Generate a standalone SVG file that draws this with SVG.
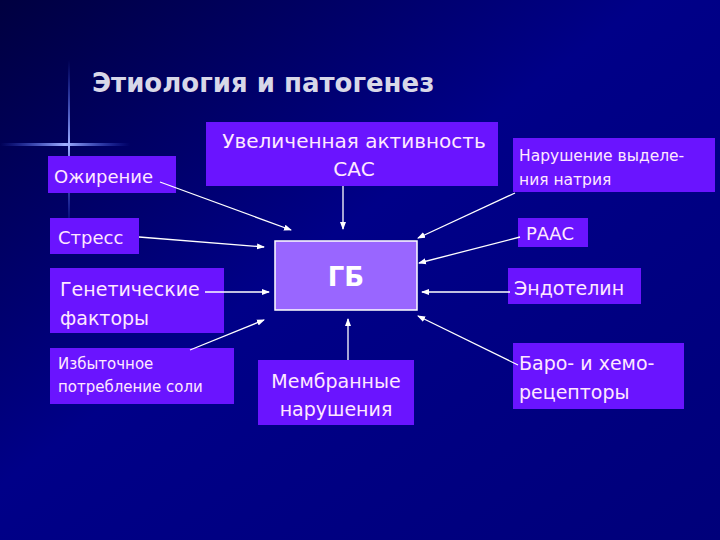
<svg xmlns="http://www.w3.org/2000/svg" width="720" height="540" viewBox="0 0 720 540">
<defs>
<linearGradient id="bg" x1="0" y1="0" x2="1" y2="1"><stop offset="0" stop-color="#000040"/><stop offset="0.45" stop-color="#000088"/><stop offset="1" stop-color="#00007a"/></linearGradient>
<linearGradient id="fl" x1="0" x2="1"><stop offset="0" stop-color="#4060ff" stop-opacity="0"/><stop offset="0.5" stop-color="#a0b0ff"/><stop offset="1" stop-color="#4060ff" stop-opacity="0"/></linearGradient>
<linearGradient id="flv" x1="0" y1="0" x2="0" y2="1"><stop offset="0" stop-color="#4060ff" stop-opacity="0"/><stop offset="0.5" stop-color="#a0b0ff"/><stop offset="1" stop-color="#4060ff" stop-opacity="0"/></linearGradient>
<marker id="ah" markerWidth="8" markerHeight="8" refX="7" refY="4" orient="auto" markerUnits="userSpaceOnUse"><path d="M0,1 L8,4 L0,7 Z" fill="#fff"/></marker>
<style>
.b{fill:#6a14ff}
.t{font-family:"DejaVu Sans",Verdana,sans-serif;fill:#ffe8ff}
.c line{stroke:#fff;stroke-width:1.3;marker-end:url(#ah)}
</style>
</defs>
<rect width="720" height="540" fill="url(#bg)"/>
<rect x="0" y="143" width="130" height="3" fill="url(#fl)"/>
<rect x="68" y="60" width="2" height="170" fill="url(#flv)"/>
<text x="92" y="92" font-family="DejaVu Sans,Verdana,sans-serif" font-weight="bold" font-size="26" fill="#d8d8e8">Этиология и патогенез</text>
<g id="n1"><rect class="b" x="48" y="156" width="128" height="37"/><text class="t" x="54" y="183" font-size="18">Ожирение</text></g>
<g id="n2"><rect class="b" x="206" y="122" width="292" height="64"/><text class="t" x="354" y="148" font-size="20" text-anchor="middle">Увеличенная активность</text><text class="t" x="354" y="176" font-size="20" text-anchor="middle">САС</text></g>
<g id="n3"><rect class="b" x="50" y="218" width="89" height="36"/><text class="t" x="58" y="244" font-size="18">Стресс</text></g>
<g id="n4"><rect class="b" x="50" y="268" width="174" height="65"/><text class="t" x="60" y="296" font-size="19">Генетические</text><text class="t" x="60" y="325" font-size="19">факторы</text></g>
<g id="n5"><rect class="b" x="50" y="348" width="184" height="56"/><text class="t" x="58" y="369" font-size="15">Избыточное</text><text class="t" x="58" y="392" font-size="15">потребление соли</text></g>
<g id="gb"><rect x="275" y="241" width="142" height="69" fill="#9966ff" stroke="#ffffff" stroke-width="1.5"/><text x="346" y="286" font-family="DejaVu Sans,Verdana,sans-serif" font-weight="bold" font-size="26" fill="#fff" text-anchor="middle">ГБ</text></g>
<g id="n6"><rect class="b" x="258" y="360" width="156" height="65"/><text class="t" x="336" y="388" font-size="19" text-anchor="middle">Мембранные</text><text class="t" x="336" y="416" font-size="19" text-anchor="middle">нарушения</text></g>
<g id="n7"><rect class="b" x="513" y="138" width="202" height="54"/><text class="t" x="519" y="161" font-size="15.5">Нарушение выделе-</text><text class="t" x="519" y="185" font-size="15.5">ния натрия</text></g>
<g id="n8"><rect class="b" x="518" y="218" width="70" height="29"/><text class="t" x="526" y="240" font-size="18">РААС</text></g>
<g id="n9"><rect class="b" x="508" y="268" width="133" height="36"/><text class="t" x="514" y="295" font-size="19">Эндотелин</text></g>
<g id="n10"><rect class="b" x="513" y="343" width="171" height="66"/><text class="t" x="519" y="370" font-size="19">Баро- и хемо-</text><text class="t" x="519" y="399" font-size="19">рецепторы</text></g>
<g class="c" id="connectors">
<line x1="160" y1="182" x2="291" y2="230"/>
<line x1="139" y1="237" x2="264" y2="247"/>
<line x1="205" y1="292" x2="269" y2="292"/>
<line x1="190" y1="350" x2="264" y2="320"/>
<line x1="343" y1="186" x2="343" y2="229"/>
<line x1="348" y1="360" x2="348" y2="319"/>
<line x1="515" y1="193" x2="418" y2="238"/>
<line x1="520" y1="237" x2="419" y2="263"/>
<line x1="510" y1="292" x2="422" y2="292"/>
<line x1="518" y1="365" x2="418" y2="316"/>
</g>
</svg>
